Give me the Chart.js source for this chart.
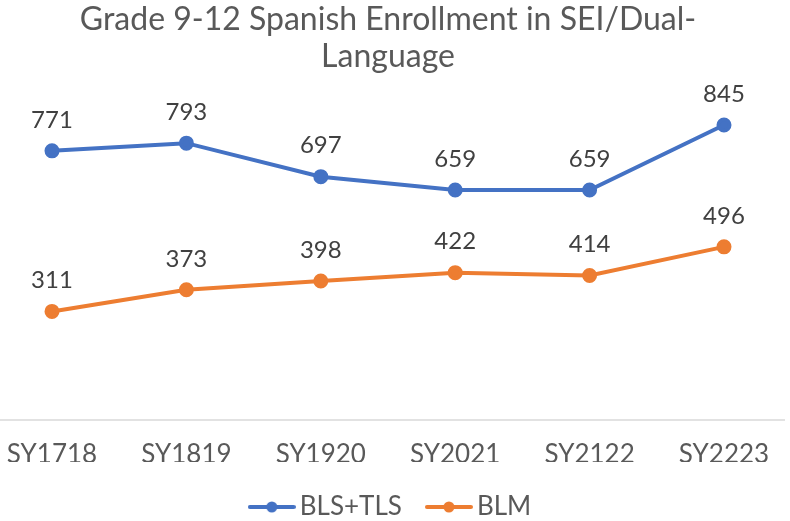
<!DOCTYPE html>
<html>
<head>
<meta charset="utf-8">
<script src="https://cdn.jsdelivr.net/npm/chart.js@4"></script>
<style>
  html, body { margin: 0; padding: 0; background: #fff; }
  #wrap { width: 790px; height: 521px; }
</style>
</head>
<body>
<div id="wrap"><canvas id="myChart"></canvas></div>
<script>
// Data

const categories = ["SY1718", "SY1819", "SY1920", "SY2021", "SY2122", "SY2223"];
const blsTls = [771, 793, 697, 659, 659, 845];
const blm = [311, 373, 398, 422, 414, 496];

const FONT = "Lato, 'Open Sans', sans-serif";

// Legend marker: line with a dot

function legendMarker(color) {
  const m = document.createElement("canvas");
  m.width = 48;
  m.height = 14;
  const c = m.getContext("2d");
  c.strokeStyle = color;
  c.fillStyle = color;
  c.lineWidth = 4;
  c.lineCap = "round";
  c.beginPath();
  c.moveTo(2, 7);
  c.lineTo(46, 7);
  c.stroke();
  c.beginPath();
  c.arc(24, 7, 5.5, 0, Math.PI * 2);
  c.fill();
  return m;
}

// Value labels above each point

const valueLabels = {
  id: "valueLabels",
  afterDatasetsDraw(chart) {
    const c = chart.ctx;
    c.save();
    c.font = "24px " + FONT;
    c.fillStyle = "#404040";
    c.textAlign = "center";
    c.textBaseline = "bottom";
    chart.data.datasets.forEach((ds, i) => {
      chart.getDatasetMeta(i).data.forEach((pt, j) => {
        c.fillText(ds.data[j], pt.x, pt.y - 19);
      });
    });
    c.restore();
  }
};

// Horizontal axis line across the whole width

const axisLine = {
  id: "axisLine",
  beforeDatasetsDraw(chart) {
    const c = chart.ctx;
    const y = chart.scales.y.getPixelForValue(0);
    c.save();
    c.strokeStyle = "#d9d9d9";
    c.lineWidth = 1.5;
    c.beginPath();
    c.moveTo(0, y);
    c.lineTo(785, y);
    c.stroke();
    c.restore();
  }
};

// nudge legend a bit to the right
const legendShift = {
  id: "legendShift",
  afterLayout(chart) {
    chart.legend.left += 6;
    chart.legend.right += 6;
  }
};

const ctx = document.getElementById("myChart");

new Chart(ctx, {
  type: "line",
  data: {
    labels: categories,
    datasets: [
      {
        label: "BLS+TLS",
        data: blsTls,
        borderColor: "#4472C4",
        backgroundColor: "#4472C4",
        borderWidth: 4,
        pointRadius: 5.5,
        pointHoverRadius: 5.5,
        pointStyle: "circle",
        tension: 0,
      },
      {
        label: "BLM",
        data: blm,
        borderColor: "#ED7D31",
        backgroundColor: "#ED7D31",
        borderWidth: 4,
        pointRadius: 5.5,
        pointHoverRadius: 5.5,
        pointStyle: "circle",
        tension: 0,
      },
    ],
  },
  plugins: [axisLine, valueLabels, legendShift],
  options: {
    responsive: true,
    maintainAspectRatio: false,
    animation: false,
    layout: { padding: { left: 52, right: 66, top: 0, bottom: -9 } },
    plugins: {
      title: {
        display: true,
        text: ["Grade 9-12 Spanish Enrollment in SEI/Dual-", "Language"],
        color: "#595959",
        font: { family: FONT, size: 32, weight: "normal", lineHeight: 1.17 },
        padding: { top: 1, bottom: -5 },
      },
      legend: {
        position: "bottom",
        labels: {
          color: "#595959",
          font: { family: FONT, size: 26 },
          usePointStyle: true,
          pointStyleWidth: 30,
          generateLabels(chart) {
            return chart.data.datasets.map((ds, i) => ({
              text: ds.label,
              fontColor: "#595959",
              pointStyle: legendMarker(ds.borderColor),
              datasetIndex: i,
              lineWidth: 0,
              strokeStyle: "transparent",
              fillStyle: ds.borderColor,
            }));
          },
          padding: 32,
        },
      },
      tooltip: { enabled: false },
    },
    scales: {
      x: {
        offset: false,
        clip: false,
        grid: { display: false, drawTicks: false },
        border: { display: false },
        afterFit(scale) {
          scale.paddingLeft = 0;
          scale.paddingRight = 0;
          scale.height = 42;
        },
        ticks: {
          color: "#595959",
          font: { family: FONT, size: 26 },
          padding: 19,
          maxRotation: 0,
        },
      },
      y: {
        display: false,
        min: 0,
        max: 1000,
      },
    },
  },
});
</script>
</body>
</html>
